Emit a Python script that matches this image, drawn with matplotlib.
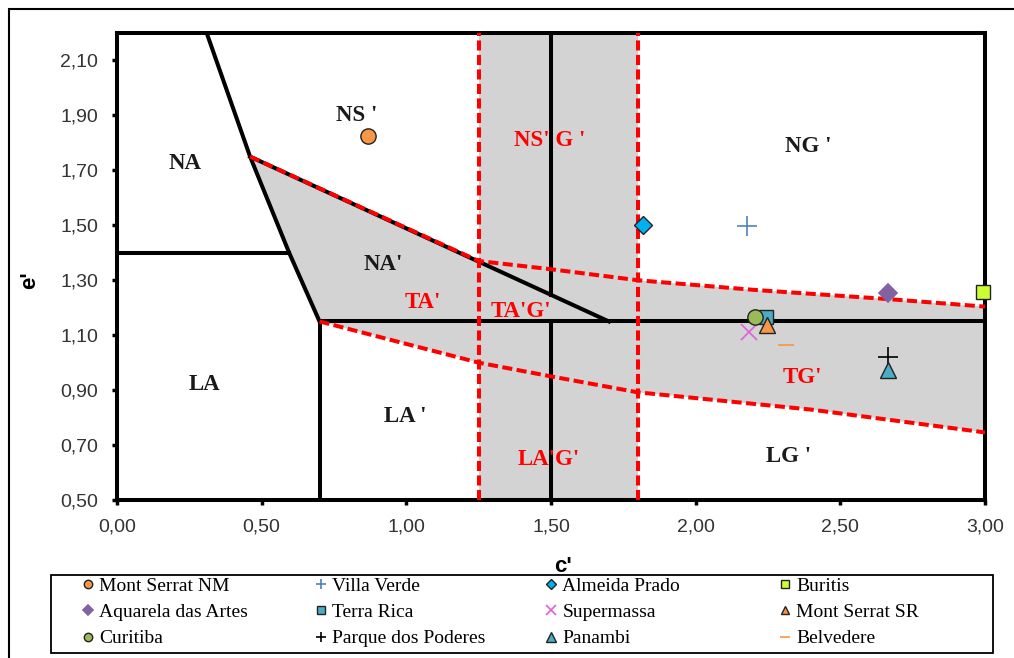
import matplotlib
matplotlib.use("Agg")
import matplotlib.pyplot as plt
from matplotlib.patches import Rectangle

# ---- chart boundaries (c', e') ----
# black boundary polyline on the left (NA / NS' / NA' / LA)
left_c = [0.31, 0.46, 0.595, 0.70]
left_e = [2.20, 1.75, 1.40, 1.15]
# NA / LA separation
na_la_c = [0.0, 0.595]
na_la_e = [1.40, 1.40]
# LA / LA' separation
la_c = [0.70, 0.70]
la_e = [0.50, 1.15]
# horizontal 1.15 line
h115_c = [0.70, 3.00]
h115_e = [1.15, 1.15]
# diagonal NA' / NS'
diag_c = [0.46, 1.70]
diag_e = [1.75, 1.15]
# vertical c' = 1.5 (two parts)
v15_top_e = [2.20, 1.247]
v15_bot_e = [1.15, 0.50]

# red dashed transition curves
up_c = [0.46, 1.25, 1.50, 1.80, 2.20, 2.67, 3.00]
up_e = [1.75, 1.37, 1.34, 1.30, 1.265, 1.231, 1.204]
low_c = [0.70, 1.25, 1.50, 1.80, 2.40, 3.00]
low_e = [1.15, 1.00, 0.95, 0.892, 0.829, 0.746]
band = [1.25, 1.80]

# ---- region labels ----
black_labels = ["NS '", "NA", "NA'", "LA", "LA '", "NG '", "LG '"]
black_lab_c = [0.83, 0.235, 0.92, 0.304, 0.995, 2.39, 2.32]
black_lab_e = [1.90, 1.724, 1.358, 0.92, 0.803, 1.786, 0.657]
red_labels = ["NS' G '", "TA'", "TA'G'", "TG'", "LA'G'"]
red_lab_c = [1.497, 1.058, 1.397, 2.37, 1.493]
red_lab_e = [1.808, 1.22, 1.187, 0.946, 0.646]

# ---- samples ----
names = ["Mont Serrat NM", "Villa Verde", "Almeida Prado", "Buritis",
         "Aquarela das Artes", "Terra Rica", "Supermassa", "Mont Serrat SR",
         "Curitiba", "Parque dos Poderes", "Panambi", "Belvedere"]
c_vals = [0.868, 2.178, 1.818, 2.993, 2.665, 2.243, 2.185, 2.247,
          2.205, 2.665, 2.665, 2.312]
e_vals = [1.826, 1.497, 1.50, 1.256, 1.252, 1.165, 1.11, 1.136,
          1.165, 1.019, 0.975, 1.066]
markers = ["o", "+", "D", "s", "D", "s", "x", "^", "o", "+", "^", "_"]
colors = ["#F79646", "#4F81BD", "#00B0F0", "#CCFF33", "#8064A2", "#4BACC6",
          "#E060D8", "#F79646", "#9BBB59", "#000000", "#4BACC6", "#F79646"]
edged = [True, False, True, True, False, True, False, True, True, False, True, False]
sizes = [11, 14, 9, 10, 9, 10, 12, 11, 11, 14, 12, 12]

xticks = [0.0, 0.5, 1.0, 1.5, 2.0, 2.5, 3.0]
yticks = [0.5, 0.7, 0.9, 1.1, 1.3, 1.5, 1.7, 1.9, 2.1]

W, H = 1014, 658
fig = plt.figure(figsize=(W / 100, H / 100), dpi=100)
ax = fig.add_axes([117 / W, 1 - 500 / H, (985 - 117) / W, (500 - 33) / H])

gray = "#D3D3D3"
red = "#FF0000"
lw = 2.9
dash = (0, (2.5, 1.1))

# gray transition zone
poly_c = up_c + low_c[::-1] + left_c[2:0:-1]
poly_e = up_e + low_e[::-1] + left_e[2:0:-1]
ax.fill(poly_c, poly_e, color=gray, lw=0, zorder=1)
ax.axvspan(band[0], band[1], color=gray, lw=0, zorder=1)

ax.plot(left_c, left_e, color="k", lw=lw, zorder=3)
ax.plot(na_la_c, na_la_e, color="k", lw=lw, zorder=3)
ax.plot(la_c, la_e, color="k", lw=lw, zorder=3)
ax.plot(h115_c, h115_e, color="k", lw=lw, zorder=3)
ax.plot(diag_c, diag_e, color="k", lw=lw, zorder=3)
ax.plot([1.5, 1.5], v15_top_e, color="k", lw=lw, zorder=3)
ax.plot([1.5, 1.5], v15_bot_e, color="k", lw=lw, zorder=3)

ax.plot(up_c, up_e, color=red, lw=lw, ls=dash, zorder=4)
ax.plot(low_c, low_e, color=red, lw=lw, ls=dash, zorder=4)
for b in band:
    ax.plot([b, b], [0.5, 2.2], color=red, lw=lw, ls=dash, zorder=4)

for t, x, y in zip(black_labels, black_lab_c, black_lab_e):
    ax.text(x, y, t, ha="center", va="center", fontsize=16.5, fontweight="bold",
            family="Liberation Serif", color="#1a1a1a", zorder=5)
for t, x, y in zip(red_labels, red_lab_c, red_lab_e):
    ax.text(x, y, t, ha="center", va="center", fontsize=16.5, fontweight="bold",
            family="Liberation Serif", color=red, zorder=5)

handles = []
for n, x, y, m, col, ed, s in zip(names, c_vals, e_vals, markers, colors, edged, sizes):
    if ed:
        h, = ax.plot([x], [y], ls="none", marker=m, ms=s, mfc=col, mec="#222222",
                     mew=1.0, label=n, zorder=6, clip_on=False)
    else:
        h, = ax.plot([x], [y], ls="none", marker=m, ms=s, color=col, mew=1.2,
                     label=n, zorder=6, clip_on=False)
    handles.append(h)

ax.set_xlim(0, 3.0)
ax.set_ylim(0.5, 2.2)
ax.set_xticks(xticks)
ax.set_yticks(yticks)
ax.set_xticklabels([("%.2f" % v).replace(".", ",") for v in xticks])
ax.set_yticklabels([("%.2f" % v).replace(".", ",") for v in yticks])
ax.tick_params(direction="out", length=3.5, width=2.5, labelsize=14, colors="k",
               labelcolor="#333333")
ax.tick_params(axis="x", pad=10)
ax.tick_params(axis="y", pad=10)
for lab in ax.get_xticklabels() + ax.get_yticklabels():
    lab.set_family("Liberation Sans")
for sp in ax.spines.values():
    sp.set_linewidth(lw)

ax.set_xlabel("c'", fontsize=16, fontweight="bold", family="Liberation Sans")
ax.set_ylabel("e'", fontsize=16, fontweight="bold", family="Liberation Sans")
ax.xaxis.set_label_coords(0.514, -0.12)
ax.yaxis.set_label_coords(-0.088, 0.471)

# legend: 4 fixed-width columns, one legend each, inside a common frame
col_left = [80, 313, 543, 777]
for k in range(4):
    idx = [k, k + 4, k + 8]
    fig.legend([handles[i] for i in idx], [names[i] for i in idx],
               loc="upper left", bbox_to_anchor=(col_left[k] / W, 1 - 577 / H),
               prop={"family": "Liberation Serif", "size": 14},
               markerscale=0.55, handlelength=0.8, handletextpad=0.2,
               labelspacing=0.45, borderpad=0, borderaxespad=0, frameon=False)
fig.add_artist(Rectangle((51 / W, 1 - 653 / H), 942 / W, 78 / H,
                         transform=fig.transFigure, fill=False, lw=1.3, ec="k"))

# outer figure frame
fig.add_artist(Rectangle((9 / W, -0.1), 1.2, 1.1 - 9 / H, transform=fig.transFigure,
                         fill=False, lw=1.5, ec="k"))

fig.savefig("out.png", dpi=100)
